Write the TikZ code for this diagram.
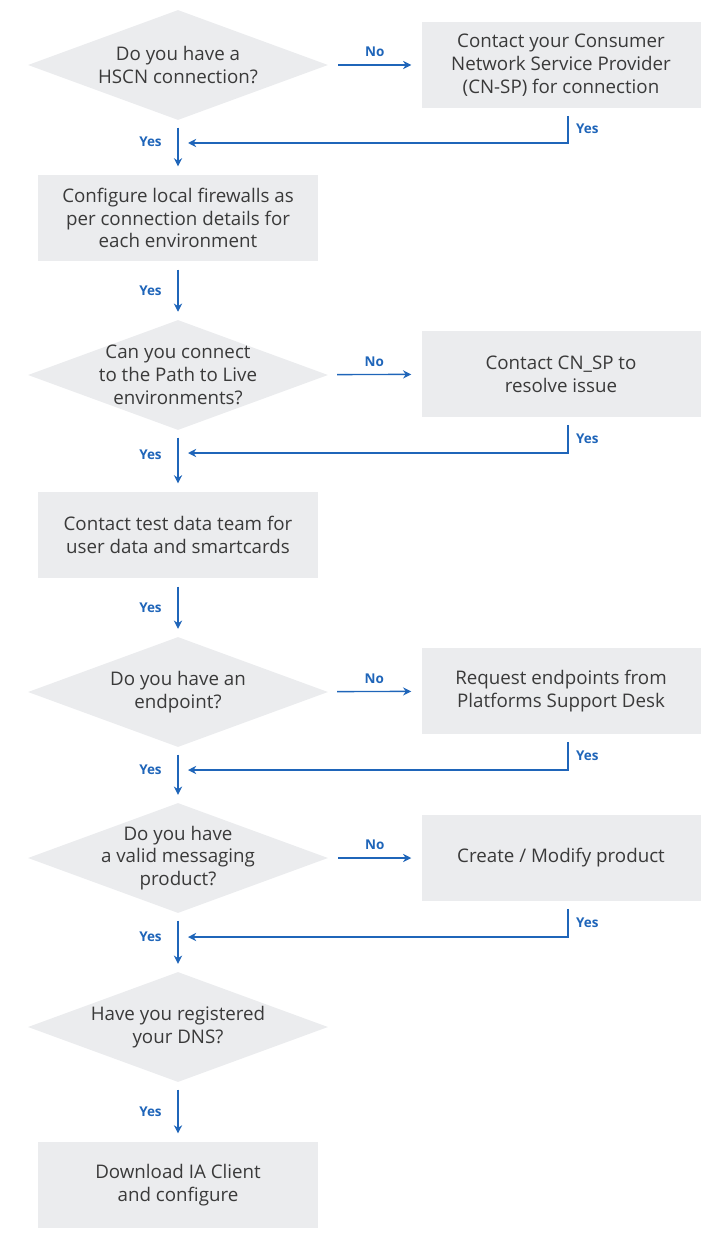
\documentclass[tikz,border=0pt]{standalone}
\usepackage{fontspec}
\setmainfont{Open Sans}
\usetikzlibrary{shapes.geometric,arrows.meta}
\definecolor{boxgrey}{HTML}{EBECEE}
\definecolor{linkblue}{HTML}{1F65B9}
\definecolor{txtgrey}{HTML}{3A3A3A}
\tikzset{
  dec/.style={diamond, fill=boxgrey, minimum width=9cm, minimum height=3.3cm,
    inner xsep=-3cm, inner ysep=-1.2cm,
    align=center, text=txtgrey, font=\fontsize{16}{19.5}\selectfont},
  act/.style={rectangle, fill=boxgrey, minimum width=8.37cm, minimum height=2.6cm, inner sep=0pt,
    align=center, text=txtgrey, font=\fontsize{16}{19.5}\selectfont},
  flow/.style={-{Stealth[length=7pt,width=7pt]}, draw=linkblue, line width=1.2pt},
  ans/.style={text=linkblue, font=\fontsize{11.5}{13}\selectfont\bfseries}
}
\begin{document}
\begin{tikzpicture}[x=0.03cm,y=-0.03cm]
    \useasboundingbox (0,0) rectangle (726,1237);

    % Decisions and actions
    \node[dec] (hscn) at (178,65) {Do you have a\\HSCN connection?};
    \node[act] (cnsp) at (561,65) {Contact your Consumer\\Network Service Provider\\(CN-SP) for connection};
    \node[act] (fwall) at (178,218) {Configure local firewalls as\\per connection details for\\each environment};
    \node[dec] (ptl) at (178,375) {Can you connect\\to the Path to Live\\environments?};
    \node[act] (resolve) at (561,374) {Contact CN\_SP to\\resolve issue};
    \node[act] (tdata) at (178,535) {Contact test data team for\\user data and smartcards};
    \node[dec] (endp) at (178,692) {Do you have an\\endpoint?};
    \node[act] (psd) at (561,691) {Request endpoints from\\Platforms Support Desk};
    \node[dec] (prod) at (178,858) {Do you have\\a valid messaging\\product?};
    \node[act] (modify) at (561,858) {Create / Modify product};
    \node[dec] (dns) at (178,1027) {Have you registered\\your DNS?};
    \node[act] (iaclient) at (178,1185) {Download IA Client\\and configure};

    % Junctions of the return lines
    \coordinate (j1) at (188,143);
    \coordinate (j2) at (188,453);
    \coordinate (j3) at (188,770);
    \coordinate (j4) at (188,937);

    % No branches
    \draw[flow, shorten <=0.3cm, shorten >=0.3cm] (hscn) -- node[ans, above=3pt] {No} (cnsp);
    \draw[flow, shorten <=0.3cm, shorten >=0.3cm] (ptl) -- node[ans, above=3pt] {No} (resolve);
    \draw[flow, shorten <=0.3cm, shorten >=0.3cm] (endp) -- node[ans, above=3pt] {No} (psd);
    \draw[flow, shorten <=0.3cm, shorten >=0.3cm] (prod) -- node[ans, above=3pt] {No} (modify);

    % Yes returns
    \draw[flow, shorten <=0.22cm] ([xshift=0.21cm]cnsp.south) |- node[ans, pos=0.3, right=3pt] {Yes} (j1);
    \draw[flow, shorten <=0.22cm] ([xshift=0.21cm]resolve.south) |- node[ans, pos=0.3, right=3pt] {Yes} (j2);
    \draw[flow, shorten <=0.22cm] ([xshift=0.21cm]psd.south) |- node[ans, pos=0.3, right=3pt] {Yes} (j3);
    \draw[flow, shorten <=0.22cm] ([xshift=0.21cm]modify.south) |- node[ans, pos=0.3, right=3pt] {Yes} (j4);

    % Yes downwards
    \draw[flow, shorten <=0.22cm, shorten >=0.24cm] (hscn) -- node[ans, left=10pt, pos=0.4] {Yes} (fwall);
    \draw[flow, shorten <=0.24cm, shorten >=0.24cm] (fwall) -- node[ans, left=10pt] {Yes} (ptl);
    \draw[flow, shorten <=0.22cm, shorten >=0.24cm] (ptl) -- node[ans, left=10pt, pos=0.4] {Yes} (tdata);
    \draw[flow, shorten <=0.24cm, shorten >=0.24cm] (tdata) -- node[ans, left=10pt] {Yes} (endp);
    \draw[flow, shorten <=0.22cm, shorten >=0.24cm] (endp) -- node[ans, left=10pt, pos=0.4] {Yes} (prod);
    \draw[flow, shorten <=0.22cm, shorten >=0.24cm] (prod) -- node[ans, left=10pt, pos=0.4] {Yes} (dns);
    \draw[flow, shorten <=0.22cm, shorten >=0.24cm] (dns) -- node[ans, left=10pt] {Yes} (iaclient);
\end{tikzpicture}
\end{document}
